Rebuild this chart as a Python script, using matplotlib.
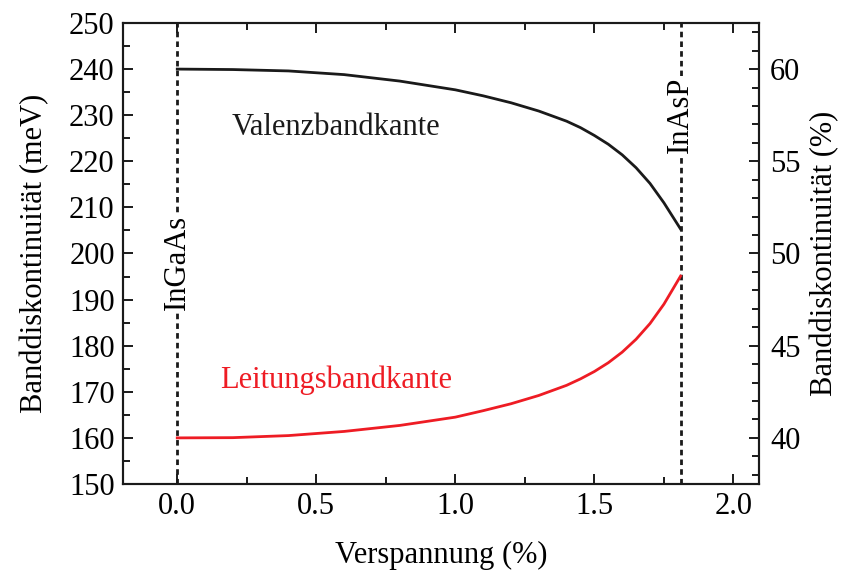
import matplotlib
matplotlib.use("Agg")
import matplotlib.pyplot as plt
from matplotlib.ticker import MultipleLocator

plt.rcParams['font.family'] = ['Liberation Serif', 'DejaVu Serif']
plt.rcParams['mathtext.fontset'] = 'stix'

strain = [0.0, 0.2, 0.4, 0.6, 0.8, 1.0, 1.1, 1.2, 1.3, 1.4, 1.45, 1.5, 1.55, 1.6, 1.65, 1.7, 1.75, 1.81]
valence = [240.0, 239.9, 239.6, 238.8, 237.4, 235.5, 234.2, 232.7, 230.9, 228.7, 227.3, 225.6, 223.7, 221.4, 218.6, 215.2, 211.0, 205.3]
conduction = [160.0, 160.05, 160.5, 161.4, 162.7, 164.5, 165.9, 167.4, 169.2, 171.4, 172.8, 174.4, 176.3, 178.6, 181.4, 184.8, 189.0, 195.1]

materials = ["InGaAs", "InAsP"]
material_x = [0.0, 1.81]

fig = plt.figure(figsize=(8.41, 5.79), dpi=100)
ax = fig.add_axes([0.1463, 0.1641, 0.9025 - 0.1463, 0.9603 - 0.1641])

ax.plot(strain, valence, color='#1a1a1a', lw=2.0, zorder=3, solid_joinstyle='round')
ax.plot(strain, conduction, color='#ee1c24', lw=2.0, zorder=3, solid_joinstyle='round')

for xm in material_x:
    ax.axvline(xm, color='#1a1a1a', lw=2.0, ls=(0, (2.0, 1.5)), zorder=2)

ax.text(material_x[0], 198, materials[0], rotation=90, ha='center', va='center',
        fontsize=22, bbox=dict(facecolor='white', edgecolor='none', pad=0.5), zorder=4)
ax.text(material_x[1], 230, materials[1], rotation=90, ha='center', va='center',
        fontsize=22, bbox=dict(facecolor='white', edgecolor='none', pad=0.5), zorder=4)

ax.text(0.572, 227.4, "Valenzbandkante", ha='center', va='center', fontsize=22, color='#1a1a1a')
ax.text(0.572, 172.6, "Leitungsbandkante", ha='center', va='center', fontsize=22, color='#ee1c24')

ax.set_xlim(-0.195, 2.092)
ax.set_ylim(150, 250)
ax.xaxis.set_major_locator(MultipleLocator(0.5))
ax.xaxis.set_minor_locator(MultipleLocator(0.25))
ax.yaxis.set_major_locator(MultipleLocator(10))
ax.yaxis.set_minor_locator(MultipleLocator(5))
ax.xaxis.set_major_formatter(matplotlib.ticker.FormatStrFormatter('%.1f'))

ax.set_xlabel("Verspannung (%)", fontsize=22, labelpad=14)
ax.set_ylabel("Banddiskontinuität (meV)", fontsize=22, labelpad=14)

ax.tick_params(which='both', direction='in', top=True, right=False, labelsize=22, width=1.4, color='#1a1a1a')
ax.tick_params(which='major', length=7, pad=6)
ax.tick_params(which='minor', length=5)
for s in ax.spines.values():
    s.set_linewidth(1.5)
    s.set_color('#1a1a1a')

ax2 = ax.twinx()
ax2.set_ylim(150 / 4, 250 / 4)
ax2.yaxis.set_major_locator(MultipleLocator(5))
ax2.yaxis.set_minor_locator(MultipleLocator(1))
ax2.tick_params(which='both', direction='in', labelsize=22, width=1.4, color='#1a1a1a')
ax2.tick_params(which='major', length=7, pad=8)
ax2.tick_params(which='minor', length=5)
ax2.set_ylabel("Banddiskontinuität (%)", fontsize=22, labelpad=7)
for s in ax2.spines.values():
    s.set_linewidth(1.5)
    s.set_color('#1a1a1a')

fig.savefig("out.png", dpi=100)
